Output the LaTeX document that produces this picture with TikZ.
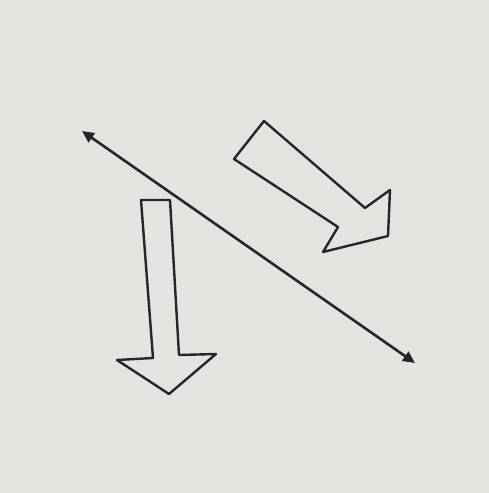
\documentclass[tikz,border=0pt]{standalone}
\usetikzlibrary{arrows.meta}
\definecolor{paper}{RGB}{229,227,223}
\definecolor{pencil}{RGB}{38,38,38}
\begin{document}
\begin{tikzpicture}[
    x=1pt, y=-1pt,
    skLine/.style={draw=pencil, line width=2.6pt, {Triangle[length=12pt, width=11pt]}-{Triangle[length=12pt, width=11pt]}},
    skBlock/.style={draw=pencil, line width=2.4pt, line join=round, fill=paper}
]
\fill[paper] (0,0) rectangle (489,493);
\useasboundingbox (0,0) rectangle (489,493);
% double arrow line
\coordinate (lineA) at (82,131);
\coordinate (lineB) at (415,363);
\draw[skLine] (lineA) -- (lineB);
% down block arrow
\draw[skBlock] (141,200) -- (170,200) -- (179,355) -- (216,354) -- (169,394)
    -- (117,360) -- (153,358) -- cycle;
% diagonal block arrow
\draw[skBlock] (264,121) -- (365,208) -- (390,190) -- (388,236) -- (323,252)
    -- (338,227) -- (234,159) -- cycle;
\end{tikzpicture}
\end{document}
